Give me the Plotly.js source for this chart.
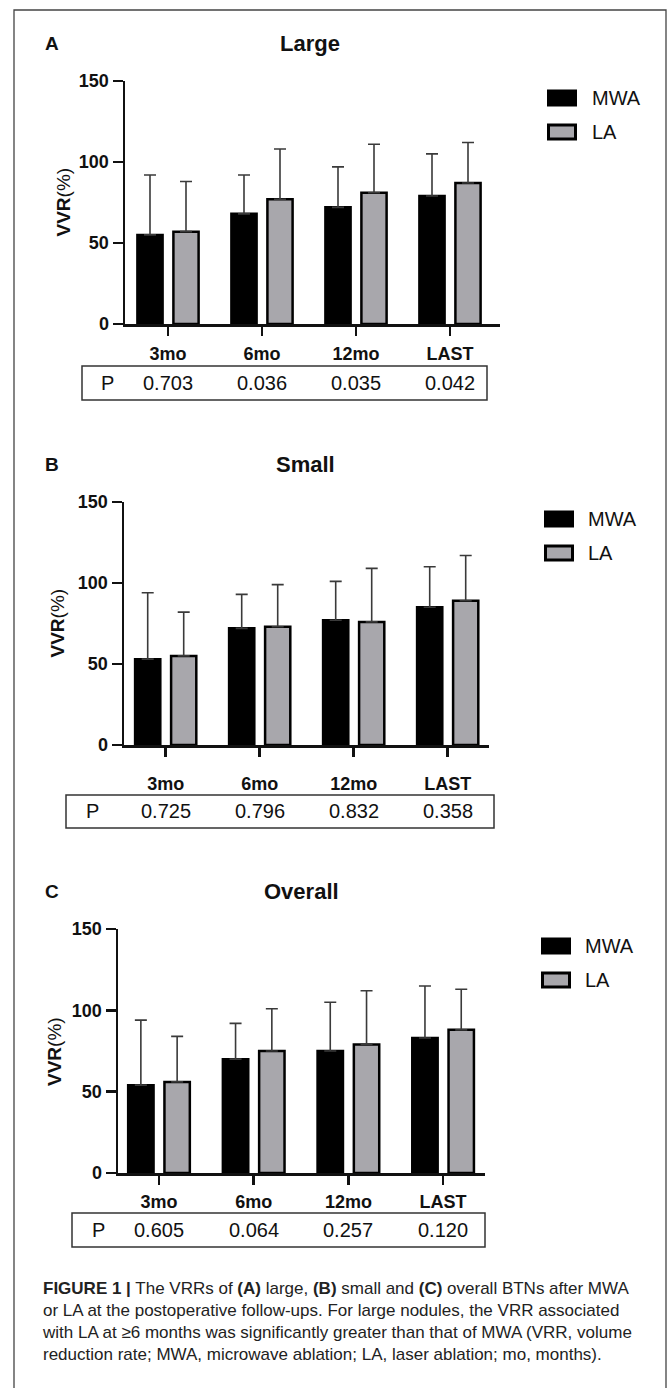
<!DOCTYPE html>
<html>
<head>
<meta charset="utf-8">
<script src="https://cdn.plot.ly/plotly-3.0.1.min.js"></script>
<style>
  html, body { margin: 0; padding: 0; background: #ffffff; }
  #chart { width: 667px; height: 1388px; }
</style>
</head>
<body>
<div id="chart"></div>
<script>
// ---------- data ----------
const categories = ['3mo', '6mo', '12mo', 'LAST'];
const seriesNames = ['MWA', 'LA'];

const largeMWA = [55, 68, 72, 79];
const largeMWAErr = [37, 24, 25, 26];
const largeLA = [57, 77, 81, 87];
const largeLAErr = [31, 31, 30, 25];

const smallMWA = [53, 72, 77, 85];
const smallMWAErr = [41, 21, 24, 25];
const smallLA = [55, 73, 76, 89];
const smallLAErr = [27, 26, 33, 28];

const overallMWA = [54, 70, 75, 83];
const overallMWAErr = [40, 22, 30, 32];
const overallLA = [56, 75, 79, 88];
const overallLAErr = [28, 26, 33, 25];

const pLarge = ['0.703', '0.036', '0.035', '0.042'];
const pSmall = ['0.725', '0.796', '0.832', '0.358'];
const pOverall = ['0.605', '0.064', '0.257', '0.120'];

const panelTitles = ['Large', 'Small', 'Overall'];
const panelLetters = ['A', 'B', 'C'];
const yTicks = [0, 50, 100, 150];
const yAxisTitle = '<b>VVR</b>(%)';
const captionText =
  '<b>FIGURE 1 |</b> The VRRs of <b>(A)</b> large, <b>(B)</b> small and <b>(C)</b> overall BTNs after MWA<br>' +
  'or LA at the postoperative follow-ups. For large nodules, the VRR associated<br>' +
  'with LA at ≥6 months was significantly greater than that of MWA (VRR, volume<br>' +
  'reduction rate; MWA, microwave ablation; LA, laser ablation; mo, months).';

// ---------- layout geometry (pixels) ----------
const W = 667, H = 1388;
const px = x => x / W;
const py = y => 1 - y / H;

const FONT = 'Liberation Sans, Arial, Helvetica, sans-serif';
const INK = '#111111';
const GRAY = '#a8a7ac';

const panels = [
  { mwa: largeMWA, mwaErr: largeMWAErr, la: largeLA, laErr: largeLAErr, p: pLarge,
    axisX: 125, end: 500, first: 168, sp: 94, yTop: 81, yBot: 324, lblOff: 3,
    box: [82, 487, 366, 400], titleX: 310, ylabX: 63, legX: 547, legTextX: 590 },
  { mwa: smallMWA, mwaErr: smallMWAErr, la: smallLA, laErr: smallLAErr, p: pSmall,
    axisX: 124, end: 489, first: 165.7, sp: 94, yTop: 502, yBot: 745, lblOff: 12,
    box: [66, 494, 795, 828], titleX: 305, ylabX: 57, legX: 544, legTextX: 586 },
  { mwa: overallMWA, mwaErr: overallMWAErr, la: overallLA, laErr: overallLAErr, p: pOverall,
    axisX: 118, end: 485, first: 159, sp: 94.7, yTop: 929, yBot: 1173, lblOff: 2,
    box: [72, 485, 1213, 1247], titleX: 301, ylabX: 54, legX: 541, legTextX: 583 }
];

const data = [];
const layout = {
  width: W, height: H,
  margin: { l: 0, r: 0, t: 0, b: 0 },
  paper_bgcolor: '#ffffff', plot_bgcolor: '#ffffff',
  showlegend: false,
  barmode: 'group',
  bargap: 0.234,
  bargroupgap: 0.3,
  font: { family: FONT, color: INK },
  shapes: [],
  annotations: []
};

// outer frame
layout.shapes.push({ type: 'rect', xref: 'paper', yref: 'paper',
  x0: px(14), x1: px(666), y0: -0.02, y1: py(10),
  line: { color: '#444444', width: 1.3 }, fillcolor: 'rgba(0,0,0,0)' });

panels.forEach((P, i) => {
  const sfx = i === 0 ? '' : String(i + 1);
  const xa = 'x' + sfx, ya = 'y' + sfx;
  const left = -(P.first - P.axisX) / P.sp;
  const right = 3 + (P.end - (P.first + 3 * P.sp)) / P.sp;

  const errStyle = (arr) => ({ type: 'data', array: arr, arrayminus: arr.map(() => 0), symmetric: false,
    visible: true, color: '#3a3a3a', thickness: 1.6, width: 6 });

  data.push({ type: 'bar', name: seriesNames[0], x: categories, y: P.mwa, xaxis: xa, yaxis: ya,
    marker: { color: '#000000', line: { color: '#000000', width: 2.5 } },
    error_y: errStyle(P.mwaErr), hoverinfo: 'skip' });
  data.push({ type: 'bar', name: seriesNames[1], x: categories, y: P.la, xaxis: xa, yaxis: ya,
    marker: { color: GRAY, line: { color: '#000000', width: 2.5 } },
    error_y: errStyle(P.laErr), hoverinfo: 'skip' });

  layout['xaxis' + sfx] = {
    domain: [px(P.axisX), px(P.end)], anchor: ya,
    type: 'category', range: [left, right],
    showline: true, linecolor: INK, linewidth: 2.5,
    ticks: 'outside', ticklen: 9, tickwidth: 2.5, tickcolor: INK,
    showgrid: false, zeroline: false, fixedrange: true,
    ticklabelstandoff: P.lblOff,
    tickfont: { family: FONT, size: 18, color: INK, weight: 'bold' }
  };
  layout['yaxis' + sfx] = {
    domain: [py(P.yBot), py(P.yTop)], anchor: xa,
    range: [0, 150], tickvals: yTicks,
    showline: true, linecolor: INK, linewidth: 2.5,
    ticks: 'outside', ticklen: 10, tickwidth: 2.5, tickcolor: INK,
    showgrid: false, zeroline: false, fixedrange: true,
    tickfont: { family: FONT, size: 18, color: INK, weight: 'bold' }
  };

  const titleY = P.yTop - 38;
  // panel letter
  layout.annotations.push({ xref: 'paper', yref: 'paper', x: px(52), y: py(titleY),
    text: '<b>' + panelLetters[i] + '</b>', showarrow: false, xanchor: 'center', yanchor: 'middle',
    font: { family: FONT, size: 19, color: INK } });
  // panel title
  layout.annotations.push({ xref: 'paper', yref: 'paper', x: px(P.titleX), y: py(titleY),
    text: '<b>' + panelTitles[i] + '</b>', showarrow: false, xanchor: 'center', yanchor: 'middle',
    font: { family: FONT, size: 22, color: INK } });
  // y axis title
  layout.annotations.push({ xref: 'paper', yref: 'paper', x: px(P.ylabX), y: py((P.yTop + P.yBot) / 2),
    text: yAxisTitle, showarrow: false, textangle: -90, xanchor: 'center', yanchor: 'middle',
    font: { family: FONT, size: 19, color: INK } });

  // legend (drawn manually)
  const legRows = [P.yTop + 17, P.yTop + 51];
  [['#000000', seriesNames[0]], [GRAY, seriesNames[1]]].forEach((s, k) => {
    layout.shapes.push({ type: 'rect', xref: 'paper', yref: 'paper',
      x0: px(P.legX + 1.5), x1: px(P.legX + 28.5), y0: py(legRows[k] + 7), y1: py(legRows[k] - 7),
      fillcolor: s[0], line: { color: '#000000', width: 3 } });
    layout.annotations.push({ xref: 'paper', yref: 'paper', x: px(P.legTextX), y: py(legRows[k]),
      text: s[1], showarrow: false, xanchor: 'left', yanchor: 'middle',
      font: { family: FONT, size: 20, color: INK } });
  });

  // P-value table
  const [bx0, bx1, by0, by1] = P.box;
  layout.shapes.push({ type: 'rect', xref: 'paper', yref: 'paper',
    x0: px(bx0), x1: px(bx1), y0: py(by1), y1: py(by0),
    line: { color: '#333333', width: 1.5 }, fillcolor: 'rgba(0,0,0,0)' });
  const rowY = py((by0 + by1) / 2);
  layout.annotations.push({ xref: 'paper', yref: 'paper', x: px(bx0 + 26), y: rowY,
    text: 'P', showarrow: false, xanchor: 'center', yanchor: 'middle',
    font: { family: FONT, size: 20, color: INK } });
  categories.forEach((c, j) => {
    layout.annotations.push({ xref: xa, yref: 'paper', x: c, y: rowY,
      text: P.p[j], showarrow: false, xanchor: 'center', yanchor: 'middle',
      font: { family: FONT, size: 20, color: INK } });
  });
});

// caption
layout.annotations.push({ xref: 'paper', yref: 'paper', x: px(40), y: py(1277),
  text: captionText, showarrow: false, xanchor: 'left', yanchor: 'top', align: 'left',
  font: { family: FONT, size: 17, color: '#222222' } });

Plotly.newPlot('chart', data, layout, { displayModeBar: false, staticPlot: true });
</script>
</body>
</html>
